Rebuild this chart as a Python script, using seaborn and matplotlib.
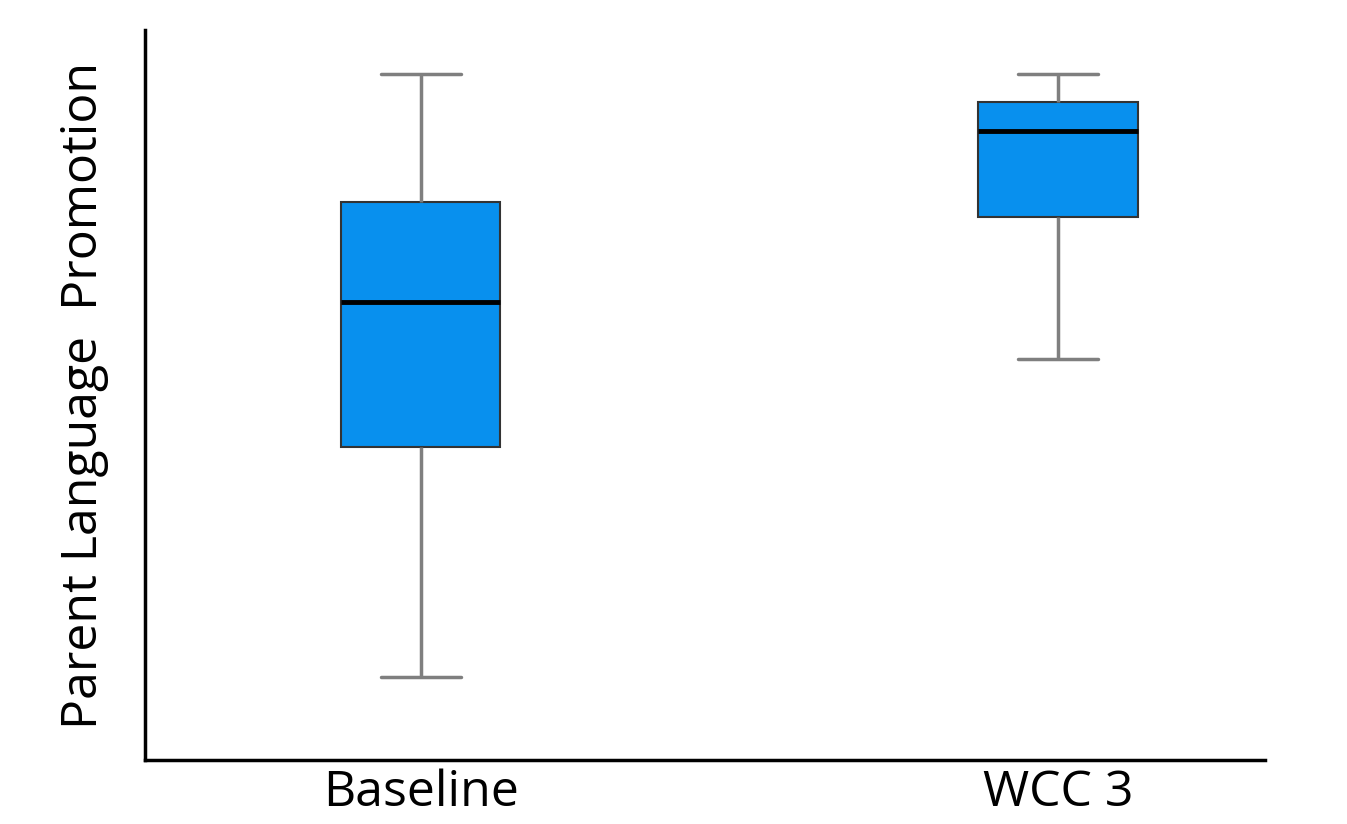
import numpy as np
import pandas as pd
import matplotlib
matplotlib.use("Agg")
import matplotlib.pyplot as plt
import seaborn as sns

# Data (five-number summaries, arbitrary units 0-10)
groups = ["Baseline", "WCC 3"]
baseline_vals = [1.14, 4.29, 6.27, 7.64, 9.40]
wcc3_vals = [5.49, 7.44, 8.62, 9.01, 9.40]
y_label = "Parent Language  Promotion"

df = pd.DataFrame({
    "group": [groups[0]] * len(baseline_vals) + [groups[1]] * len(wcc3_vals),
    "value": baseline_vals + wcc3_vals,
})

sns.set_style("white")
plt.rcParams["font.family"] = ["Open Sans", "DejaVu Sans"]

fig = plt.figure(figsize=(13.47, 8.24), dpi=100)
ax = fig.add_axes([0.1076, 0.0777, 0.8315, 0.8859])

sns.boxplot(
    data=df, x="group", y="value", order=groups, ax=ax,
    color="#0890EE", saturation=1, width=0.25, whis=(0, 100),
    linewidth=1.5, showfliers=False,
    boxprops=dict(facecolor="#0890EE", edgecolor="#333333", linewidth=1.5),
    whiskerprops=dict(color="#7f7f7f", linewidth=2.5),
    capprops=dict(color="#7f7f7f", linewidth=2.5),
    medianprops=dict(color="#000000", linewidth=3.5),
)

ax.set_xlim(-0.433, 1.325)
ax.set_ylim(0, 10)
ax.set_yticks([])
ax.tick_params(axis="x", length=0, labelsize=36, pad=6, labelcolor="black")
ax.set_xlabel("")
ax.set_ylabel(y_label, fontsize=36, labelpad=26, color="black")
for side in ["top", "right"]:
    ax.spines[side].set_visible(False)
for side in ["left", "bottom"]:
    ax.spines[side].set_color("black")
    ax.spines[side].set_linewidth(2.5)

fig.savefig("out.png", dpi=100, facecolor="white")
